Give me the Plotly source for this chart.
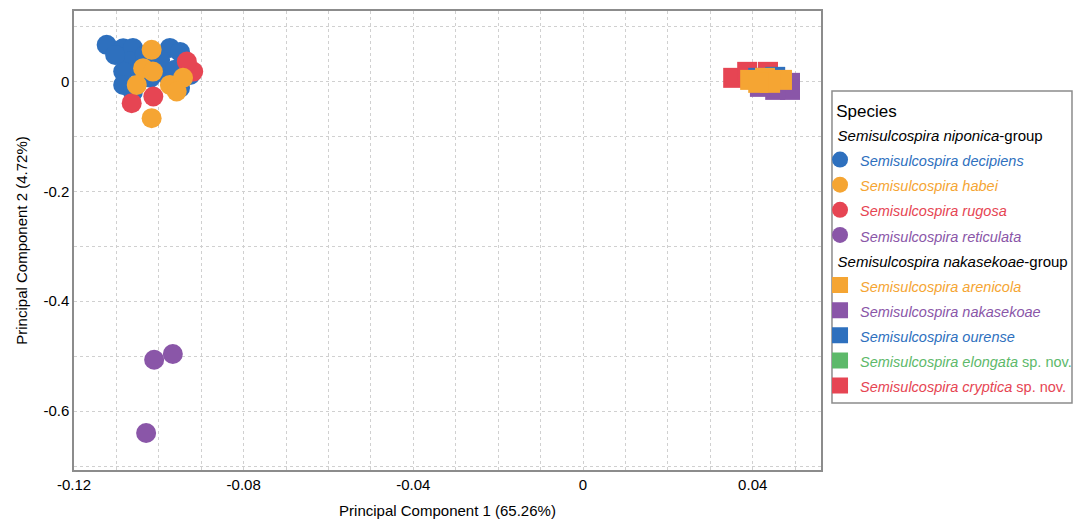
import plotly.graph_objects as go

# ---- data ----
decipiens_x = [-0.1123, -0.1084, -0.1061, -0.0974, -0.0950, -0.1068, -0.1084, -0.1084, -0.1020,
               -0.0981, -0.0943, -0.0926, -0.0950, -0.1061, -0.1033, -0.0997, -0.1103, -0.0962, -0.1044]
decipiens_y = [0.0664, 0.0604, 0.0609, 0.0609, 0.0536, 0.0360, 0.0178, -0.0064, 0.0064,
               0.0118, 0.0300, 0.0118, -0.0118, -0.0190, 0.0480, 0.0390, 0.0480, 0.0210, 0.0210]
habei_x = [-0.1017, -0.1037, -0.1014, -0.1052, -0.0974, -0.0943, -0.0958, -0.1017]
habei_y = [0.0573, 0.0240, 0.0178, -0.0064, -0.0064, 0.0064, -0.0185, -0.0669]
rugosa_x = [-0.1064, -0.1013, -0.0919, -0.0934]
rugosa_y = [-0.0396, -0.0276, 0.0178, 0.0360]
reticulata_x = [-0.1011, -0.0967, -0.1030]
reticulata_y = [-0.5064, -0.4960, -0.6396]

arenicola_x = [0.0394, 0.0429, 0.0469, 0.0441, 0.0413]
arenicola_y = [0.0027, 0.0064, 0.0027, -0.0027, -0.0027]
nakasekoae_x = [0.0488, 0.0488, 0.0453, 0.0417]
nakasekoae_y = [-0.0027, -0.0155, -0.0155, -0.0100]
ourense_x = [0.0413, 0.0453]
ourense_y = [0.0064, 0.0082]
elongata_x = [0.0429]
elongata_y = [-0.0009]
cryptica_x = [0.0354, 0.0387, 0.0436]
cryptica_y = [0.0064, 0.0173, 0.0173]

x_ticks = [-0.12, -0.08, -0.04, 0, 0.04]
x_tick_labels = ["-0.12", "-0.08", "-0.04", "0", "0.04"]
y_ticks = [0, -0.2, -0.4, -0.6]
y_tick_labels = ["0", "-0.2", "-0.4", "-0.6"]

BLUE = "#2e70be"
ORANGE = "#f5a533"
RED = "#e64553"
PURPLE = "#8a56a8"
GREEN = "#5db96a"

INDENT = "&nbsp;&nbsp;&nbsp;"
G1 = "<span style='font-size:15px'>%s<i>Semisulcospira niponica</i>-group</span>" % INDENT
G2 = "<span style='font-size:15px'>%s<i>Semisulcospira nakasekoae</i>-group</span>" % INDENT
TITLE = "<span style='font-size:17px'>%sSpecies</span>" % INDENT


def lab(color, species, extra=""):
    return ("<span style='color:%s;font-size:14.5px'><i>Semisulcospira %s</i>%s</span>"
            % (color, species, extra))


# (x, y, color, symbol, label, group, group title, legend rank) in drawing order
series = [
    (decipiens_x, decipiens_y, BLUE, "circle", lab(BLUE, "decipiens"), "g1", G1, 1),
    (rugosa_x, rugosa_y, RED, "circle", lab(RED, "rugosa"), "g1", G1, 3),
    (habei_x, habei_y, ORANGE, "circle", lab(ORANGE, "habei"), "g1", G1, 2),
    (reticulata_x, reticulata_y, PURPLE, "circle", lab(PURPLE, "reticulata"), "g1", G1, 4),
    (cryptica_x, cryptica_y, RED, "square", lab(RED, "cryptica", " sp. nov."), "g2", G2, 9),
    (elongata_x, elongata_y, GREEN, "square", lab(GREEN, "elongata", " sp. nov."), "g2", G2, 8),
    (nakasekoae_x, nakasekoae_y, PURPLE, "square", lab(PURPLE, "nakasekoae"), "g2", G2, 6),
    (ourense_x, ourense_y, BLUE, "square", lab(BLUE, "ourense"), "g2", G2, 7),
    (arenicola_x, arenicola_y, ORANGE, "square", lab(ORANGE, "arenicola"), "g2", G2, 5),
]

fig = go.Figure()
for xs, ys, col, sym, name, grp, gtitle, rank in series:
    fig.add_trace(go.Scatter(
        x=xs, y=ys, mode="markers", name=name,
        marker=dict(color=col, size=20, symbol=sym, line=dict(width=0)),
        legendgroup=grp,
        legendgrouptitle=dict(text=gtitle, font=dict(size=17, color="black")),
        legendrank=rank,
    ))

# legend frame (drawn as a shape so the entries can sit close to its left edge)
fig.add_shape(type="rect", xref="paper", yref="paper",
              x0=1.0147, x1=1.336, y0=0.146, y1=0.8257,
              line=dict(color="#8c8c8c", width=1.5), fillcolor="rgba(0,0,0,0)")

FONT = "Liberation Sans, Arial, sans-serif"
fig.update_layout(
    width=1073, height=512,
    margin=dict(l=66, r=260, t=3, b=50, autoexpand=False),
    paper_bgcolor="white", plot_bgcolor="white",
    font=dict(family=FONT, size=15, color="black"),
    showlegend=True,
    legend=dict(
        title=dict(text=TITLE, font=dict(size=25, color="black")),
        x=0.9987, xanchor="left", y=0.8400, yanchor="top",
        borderwidth=0, bgcolor="rgba(0,0,0,0)",
        font=dict(size=17),
        itemsizing="trace",
        tracegroupgap=0,
        traceorder="grouped",
    ),
    xaxis=dict(
        range=[-0.12, 0.0561],
        tickvals=x_ticks, ticktext=x_tick_labels,
        showgrid=True, gridcolor="#d0d0d0", griddash="dot", gridwidth=1,
        minor=dict(dtick=0.01, tick0=-0.12, showgrid=True, gridcolor="#d0d0d0",
                   griddash="dot", gridwidth=1),
        zeroline=False, automargin=False,
        showline=True, mirror=True, linecolor="#8c8c8c", linewidth=1.5,
        ticks="", tickfont=dict(size=15),
        title=dict(text="Principal Component 1 (65.26%)", font=dict(size=15), standoff=14),
    ),
    yaxis=dict(
        range=[-0.707, 0.128],
        tickvals=y_ticks, ticktext=y_tick_labels,
        showgrid=True, gridcolor="#d0d0d0", griddash="dot", gridwidth=1,
        minor=dict(dtick=0.1, tick0=0, showgrid=True, gridcolor="#d0d0d0",
                   griddash="dot", gridwidth=1),
        zeroline=False, automargin=False,
        showline=True, mirror=True, linecolor="#8c8c8c", linewidth=1.5,
        ticks="", tickfont=dict(size=15),
        title=dict(text="Principal Component 2 (4.72%)", font=dict(size=15), standoff=12),
    ),
)

fig.write_html("out.html")
